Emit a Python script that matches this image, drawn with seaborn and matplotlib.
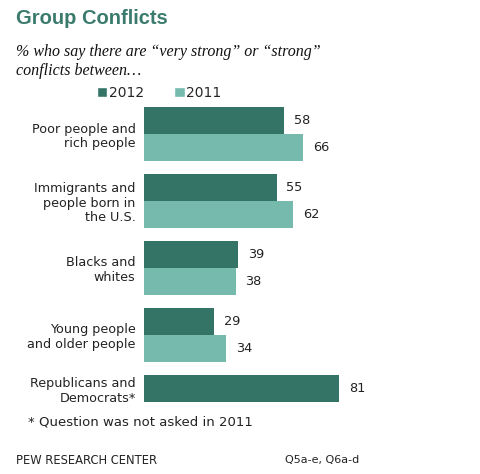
import numpy as np
import pandas as pd
import matplotlib
matplotlib.use("Agg")
import matplotlib.pyplot as plt
import seaborn as sns
from matplotlib.patches import Patch

categories = ["Poor people and\nrich people",
              "Immigrants and\npeople born in\nthe U.S.",
              "Blacks and\nwhites",
              "Young people\nand older people",
              "Republicans and\nDemocrats*"]
years = ["2012", "2011"]
values_2012 = [58, 55, 39, 29, 81]
values_2011 = [66, 62, 38, 34, np.nan]

df = pd.DataFrame({
    "group": categories * 2,
    "year": [years[0]] * len(categories) + [years[1]] * len(categories),
    "value": values_2012 + values_2011,
})

sns.set_theme(style="white")
plt.rcParams['font.family'] = ['DejaVu Sans']

dark = "#347467"
light = "#76BAAD"
title_col = "#3B7B6D"

W, H = 480, 474
fig = plt.figure(figsize=(W / 100, H / 100), dpi=100)
left = 144 / W
right = 385 / W
top = 1 - 100.5 / H
bottom = 1 - 435.5 / H
ax = fig.add_axes([left, bottom, right - left, top - bottom])

sns.barplot(data=df, y="group", x="value", hue="year", hue_order=years,
            palette=[dark, light], orient="h", width=0.8, ax=ax,
            order=categories, saturation=1, dodge=True, legend=False,
            linewidth=0, edgecolor="none")

ax.set_xlim(0, 100)
ax.set_ylim(4.5, -0.5)
for c in ax.containers:
    labels = ["" if np.isnan(v) else f"{int(v)}" for v in c.datavalues]
    ax.bar_label(c, labels=labels, padding=7, fontsize=9.3, color="#222222")

tick_pos = [0, 1, 2, 3, 3.8]
ax.set_yticks(tick_pos)
ax.set_yticklabels(categories, linespacing=1.15)
ax.set_xlabel("")
ax.set_ylabel("")
ax.set_xticks([])
ax.tick_params(axis="y", length=0, pad=6, labelsize=9.2, labelcolor="#222222")
for s in ax.spines.values():
    s.set_visible(False)

fig.text(16 / W, 1 - 19 / H, "Group Conflicts", fontsize=14.5, fontweight="bold",
         family="Liberation Sans", color=title_col, va="center", ha="left")
fig.text(16 / W, 1 - 52 / H, "% who say there are \u201cvery strong\u201d or \u201cstrong\u201d",
         fontsize=11.5, style="italic", family="Liberation Serif", va="center", ha="left", color="#111111")
fig.text(16 / W, 1 - 71 / H, "conflicts between\u2026",
         fontsize=11.5, style="italic", family="Liberation Serif", va="center", ha="left", color="#111111")

handles = [Patch(facecolor=dark, label="2012"), Patch(facecolor=light, label="2011")]
fig.legend(handles=handles, loc="center left", bbox_to_anchor=(97 / W, 1 - 93 / H),
           ncol=2, frameon=False, fontsize=10, handlelength=0.75, handleheight=0.75,
           handletextpad=0.1, columnspacing=2.2, borderaxespad=0, borderpad=0)

fig.text(28 / W, 1 - 422 / H, "* Question was not asked in 2011", fontsize=9.5,
         va="center", ha="left", color="#222222")
fig.text(16 / W, 1 - 460 / H, "PEW RESEARCH CENTER", fontsize=8.3,
         va="center", ha="left", color="#222222")
fig.text(285 / W, 1 - 460 / H, "Q5a-e, Q6a-d", fontsize=8,
         va="center", ha="left", color="#222222")

fig.savefig("out.png", dpi=100)
